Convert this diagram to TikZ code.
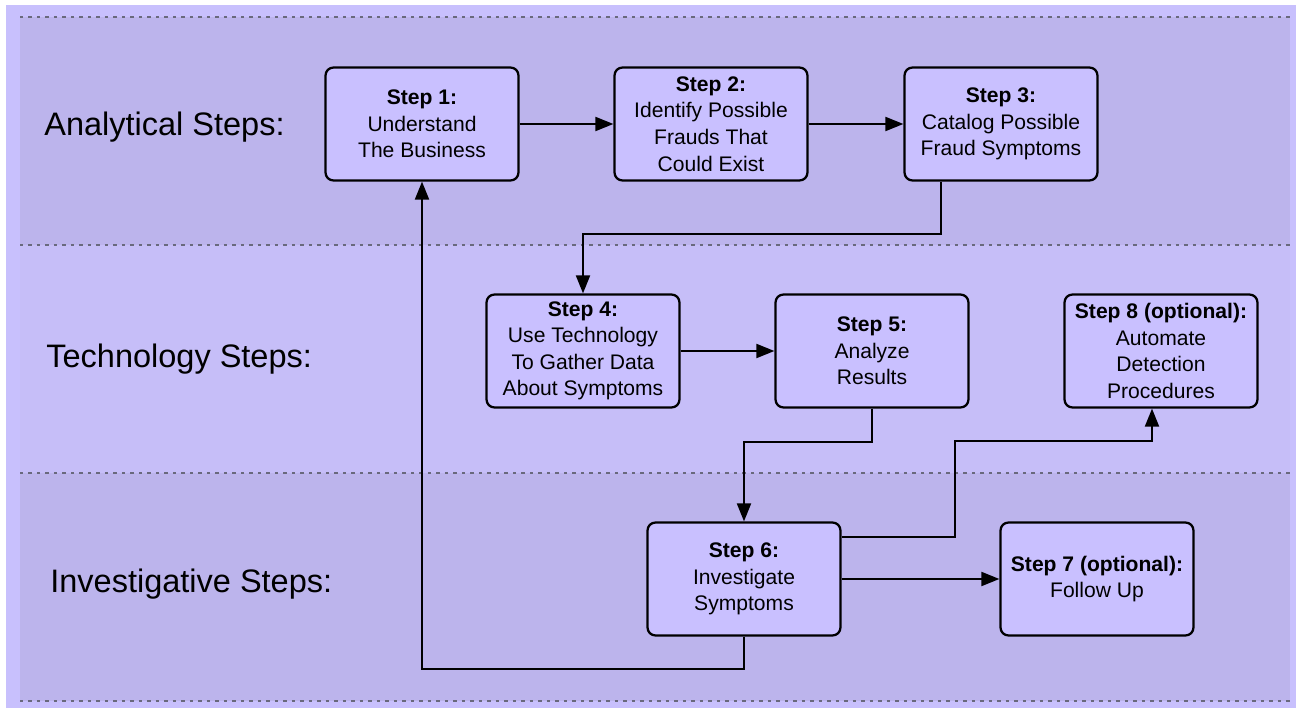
\documentclass[tikz,border=0pt]{standalone}
\usepackage{fontspec}
\setmainfont{Liberation Sans}
\usetikzlibrary{arrows.meta}

\definecolor{outerbg}{RGB}{200,192,253}
\definecolor{banddark}{RGB}{188,180,236}
\definecolor{bandlight}{RGB}{198,190,248}
\definecolor{boxfill}{RGB}{201,192,255}
\definecolor{dashgray}{RGB}{105,105,125}

\begin{document}
\begin{tikzpicture}[
    x=0.02cm,
    y=-0.02cm,
    stepbox/.style={
        rectangle,
        draw,
        rounded corners=0.16cm,
        line width=0.045cm,
        fill=boxfill,
        minimum width=3.86cm,
        minimum height=2.26cm,
        inner sep=0pt,
        align=center,
        font=\fontsize{12}{15.1}\selectfont
    },
    lanelabel/.style={
        anchor=west,
        inner sep=0pt,
        font=\fontsize{18.5}{22}\selectfont
    },
    lanesep/.style={
        dashgray,
        line width=0.03cm,
        dash pattern=on 0.07cm off 0.1cm
    },
    flow/.style={
        -{Triangle[length=0.36cm,width=0.28cm]},
        line width=0.04cm
    }
]

    \useasboundingbox (0,0) rectangle (1296,709);
    \fill[white] (0,0) rectangle (1296,709);
    \fill[outerbg] (6,5) rectangle (1296,708);
    \fill[banddark] (20,17) rectangle (1290,245);
    \fill[bandlight] (20,245) rectangle (1290,473);
    \fill[banddark] (20,473) rectangle (1290,701);

    \foreach \y in {17,245,473,701}
        \draw[lanesep] (20,\y) -- (1290,\y);

    \node[lanelabel] (analytical) at (44,127) {Analytical Steps:};
    \node[lanelabel] (technology) at (46,359) {Technology Steps:};
    \node[lanelabel] (investigative) at (50,584) {Investigative Steps:};

    \node[stepbox] (s1) at (422,124) {\textbf{Step 1:}\\Understand\\The Business};
    \node[stepbox] (s2) at (711,124) {\textbf{Step 2:}\\Identify Possible\\Frauds That\\Could Exist};
    \node[stepbox] (s3) at (1001,124) {\textbf{Step 3:}\\Catalog Possible\\Fraud Symptoms};
    \node[stepbox] (s4) at (583,351) {\textbf{Step 4:}\\Use Technology\\To Gather Data\\About Symptoms};
    \node[stepbox] (s5) at (872,351) {\textbf{Step 5:}\\Analyze\\Results};
    \node[stepbox] (s8) at (1161,351) {\textbf{Step 8 (optional):}\\Automate\\Detection\\Procedures};
    \node[stepbox] (s6) at (744,579) {\textbf{Step 6:}\\Investigate\\Symptoms};
    \node[stepbox] (s7) at (1097,579) {\textbf{Step 7 (optional):}\\Follow Up};

    \draw[flow] (s1) -- (s2);
    \draw[flow] (s2) -- (s3);
    \draw[flow] ([xshift=-1.2cm]s3.south) -- ++(0,52) -| (s4.north);
    \draw[flow] (s4) -- (s5);
    \draw[flow] (s5.south) -- ++(0,33) -| (s6.north);
    \draw[flow] ([yshift=0.84cm]s6.east) -| ++(113,-96) -| ([xshift=-0.18cm]s8.south);
    \draw[flow] (s6) -- (s7);
    \draw[flow] (s6.south) -- ++(0,32) -| (s1.south);

\end{tikzpicture}
\end{document}
